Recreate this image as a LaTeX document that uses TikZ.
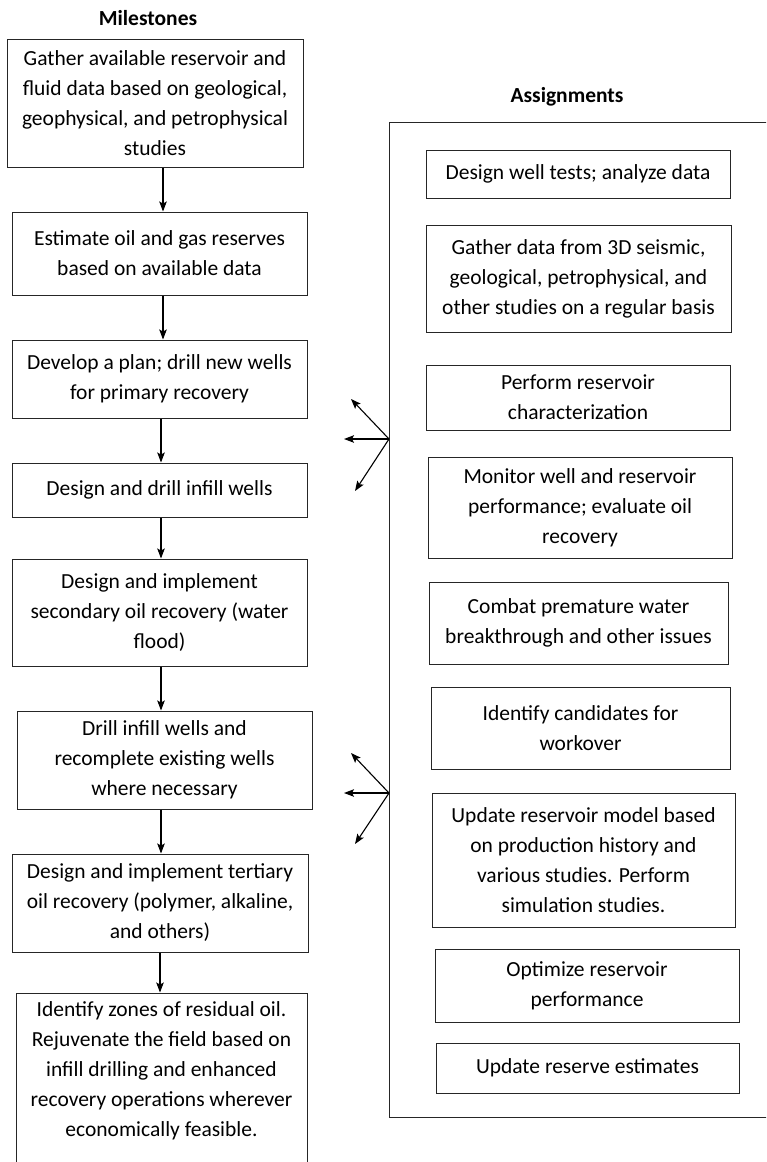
\documentclass[tikz,border=0pt]{standalone}
\usepackage{fontspec}
\setmainfont{Carlito}
\usetikzlibrary{arrows.meta}
\tikzset{
  txt/.style={font=\fontsize{21.5pt}{30pt}\selectfont, align=center, inner sep=0pt},
  box/.style={txt, draw=black!85, line width=1pt},
  ttl/.style={font=\fontsize{21.5pt}{30pt}\selectfont\bfseries, inner sep=0pt},
  arr/.style={draw=black, line width=1.1pt, -{Stealth[length=10pt,width=7.5pt,inset=2pt]}},
}
\begin{document}
\begin{tikzpicture}[x=1pt,y=-1pt]
\useasboundingbox (0,0) rectangle (766,1162);
\clip (0,0) rectangle (766,1162);
\fill[white] (0,0) rectangle (766,1162);

% titles
\node[ttl] (tm) at (148,18) {Milestones};
\node[ttl] (ta) at (567,97) {Assignments};

% milestones
\node[box, minimum width=296pt, minimum height=128pt] (m1) at (155,103)
  {Gather available reservoir and\\fluid data based on geological,\\geophysical, and petrophysical\\studies};
\node[box, minimum width=295pt, minimum height=83pt] (m2) at (159.5,253.5)
  {Estimate oil and gas reserves\\based on available data};
\node[box, minimum width=295pt, minimum height=78pt] (m3) at (159.5,379)
  {Develop a plan; drill new wells\\for primary recovery};
\node[box, minimum width=295pt, minimum height=54pt] (m4) at (159.5,490)
  {Design and drill infill wells};
\node[box, minimum width=295pt, minimum height=107pt] (m5) at (159.5,612.5)
  {Design and implement\\secondary oil recovery (water\\flood)};
\node[box, minimum width=295pt, minimum height=98pt] (m6) at (164.5,760)
  {Drill infill wells and\\recomplete existing wells\\where necessary};
\node[box, minimum width=296pt, minimum height=98pt] (m7) at (160,903)
  {Design and implement tertiary\\oil recovery (polymer, alkaline,\\and others)};
\node[draw=black!85, line width=1pt, minimum width=291pt, minimum height=240pt, inner sep=0pt] (m8) at (161.5,1113) {};
\node[txt] (m8t) at (161.5,1071)
  {Identify zones of residual oil.\\Rejuvenate the field based on\\infill drilling and enhanced\\recovery operations wherever\\economically feasible.};

% vertical arrows
\coordinate (xa) at (163,0);
\coordinate (xb) at (161,0);
\coordinate (xc) at (160,0);
\draw[arr] (m1.south -| xa) -- (m2.north -| xa);
\draw[arr] (m2.south -| xa) -- (m3.north -| xa);
\draw[arr] (m3.south -| xb) -- (m4.north -| xb);
\draw[arr] (m4.south -| xb) -- (m5.north -| xb);
\draw[arr] (m5.south -| xb) -- (m6.north -| xb);
\draw[arr] (m6.south -| xb) -- (m7.north -| xb);
\draw[arr] (m7.south -| xc) -- (m8.north -| xc);

% assignments frame
\node[draw=black!85, line width=1pt, minimum width=391pt, minimum height=995pt, inner sep=0pt] (asg) at (584.5,619.5) {};

\node[box, minimum width=304pt, minimum height=48pt] (a1) at (578,174)
  {Design well tests; analyze data};
\node[box, minimum width=305pt, minimum height=107pt] (a2) at (578.5,278.5)
  {Gather data from 3D seismic,\\geological, petrophysical, and\\other studies on a regular basis};
\node[box, minimum width=304pt, minimum height=65pt] (a3) at (578,397.5)
  {Perform reservoir\\characterization};
\node[box, minimum width=304pt, minimum height=101pt] (a4) at (580,507.5)
  {Monitor well and reservoir\\performance; evaluate oil\\recovery};
\node[box, minimum width=299pt, minimum height=82pt] (a5) at (578.5,623)
  {Combat premature water\\breakthrough and other issues};
\node[box, minimum width=299pt, minimum height=82pt] (a6) at (580.5,728)
  {Identify candidates for\\workover};
\node[box, minimum width=303pt, minimum height=134pt] (a7) at (583.5,860)
  {Update reservoir model based\\on production history and\\various studies. Perform\\simulation studies.};
\node[box, minimum width=304pt, minimum height=73pt] (a8) at (587,985.5)
  {Optimize reservoir\\performance};
\node[box, minimum width=303pt, minimum height=50pt] (a9) at (587.5,1068)
  {Update reserve estimates};

% fan arrows
\coordinate (o1) at (389,439);
\coordinate (p1) at (351,399);
\coordinate (q1) at (344,439);
\coordinate (r1) at (355,491);
\coordinate (o2) at (389,793);
\coordinate (p2) at (351,753);
\coordinate (q2) at (344,793);
\coordinate (r2) at (355,844);
\draw[arr] (o1) -- (p1);
\draw[arr] (o1) -- (q1);
\draw[arr] (o1) -- (r1);
\draw[arr] (o2) -- (p2);
\draw[arr] (o2) -- (q2);
\draw[arr] (o2) -- (r2);
\end{tikzpicture}
\end{document}
